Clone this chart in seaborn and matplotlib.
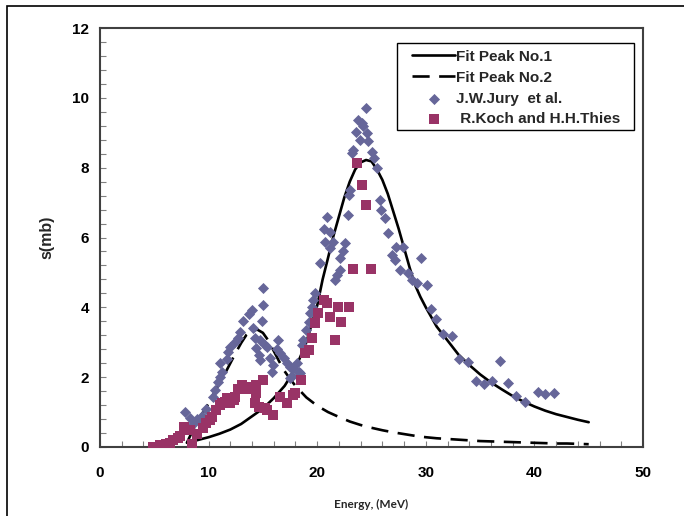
"""Photonuclear cross section: Lorentzian fits vs. measured data."""

import matplotlib.pyplot as plt
import seaborn as sns
from matplotlib.patches import Rectangle
from matplotlib.ticker import MultipleLocator

# Fit Peak No.1 (solid)
fit1_energy = [8, 9, 10, 11, 12, 13, 14, 15, 16, 17, 18, 19, 20, 20.5, 21, 21.5,
               22, 22.5, 23, 23.5, 24, 24.5, 25, 25.5, 26, 26.5, 27, 27.5, 28,
               28.5, 29, 29.5, 30, 31, 32, 33, 34, 35, 36, 37, 38, 39, 40, 41,
               42, 43, 44, 45]
fit1_sigma = [0.12, 0.2, 0.28, 0.38, 0.5, 0.66, 0.88, 1.1, 1.4, 1.75, 2.25, 3.0,
              4.05, 4.8, 5.42, 6.05, 6.6, 7.15, 7.6, 7.95, 8.15, 8.22, 8.18,
              7.95, 7.65, 7.25, 6.75, 6.25, 5.7, 5.15, 4.65, 4.3, 4.0, 3.45,
              3.05, 2.65, 2.35, 2.08, 1.85, 1.65, 1.46, 1.3, 1.16, 1.04, 0.94,
              0.86, 0.78, 0.71]

# Fit Peak No.2 (dashed)
fit2_energy = [8, 8.5, 9, 9.5, 10, 10.5, 11, 11.5, 12, 12.5, 13, 13.5, 14, 14.5,
               15, 15.5, 16, 16.5, 17, 17.5, 18, 19, 20, 21, 22, 23, 24, 25, 26,
               27, 28, 29, 30, 31, 32, 33, 34, 35, 36, 37, 38, 39, 40, 41, 42,
               43, 44, 45]
fit2_sigma = [0.12, 0.45, 0.75, 1.0, 1.25, 1.55, 1.82, 2.1, 2.4, 2.7, 2.98, 3.22,
              3.34, 3.36, 3.27, 3.05, 2.75, 2.45, 2.17, 1.95, 1.75, 1.42, 1.18,
              1.0, 0.86, 0.73, 0.63, 0.55, 0.48, 0.42, 0.37, 0.32, 0.28, 0.25,
              0.23, 0.21, 0.19, 0.17, 0.16, 0.15, 0.14, 0.13, 0.12, 0.11, 0.1,
              0.1, 0.09, 0.08]

# J.W.Jury et al.
jury_energy = [7.8, 8.3, 8.6, 8.9, 9.1, 9.4, 9.8, 10.4, 10.6, 10.9, 11.05, 11.2,
               11.05, 11.7, 11.8, 12.0, 12.4, 12.7, 12.9, 13.2, 13.7, 14.0, 14.1,
               14.3, 14.4, 14.6, 14.7, 14.7, 14.9, 15.0, 15.05, 15.2, 15.35,
               15.65, 15.8, 15.95, 16.3, 16.4, 16.6, 16.9, 17.2, 17.5, 17.5,
               17.65, 17.8, 18.1, 18.3, 18.4, 18.6, 18.7, 19.0, 19.2, 19.3, 19.5,
               19.6, 19.8, 20.3, 20.6, 20.7, 20.9, 21.2, 21.2, 21.5, 21.6, 21.8,
               22.1, 22.1, 22.4, 22.6, 22.8, 22.9, 23.0, 23.2, 23.3, 23.6, 23.8,
               23.9, 24.1, 24.2, 24.5, 24.55, 24.7, 25.0, 25.2, 25.5, 25.8, 25.9,
               26.2, 26.5, 26.9, 27.2, 27.3, 27.6, 27.9, 28.4, 28.7, 29.2, 29.6,
               30.1, 30.5, 30.9, 31.6, 32.4, 33.1, 33.9, 34.6, 35.4, 36.1, 36.8,
               37.6, 38.3, 39.1, 40.3, 41.0, 41.8]
jury_sigma = [1.01, 0.82, 0.66, 0.80, 0.76, 0.88, 1.08, 1.42, 1.63, 1.85, 2.01,
              2.14, 2.42, 2.52, 2.73, 2.87, 3.02, 3.12, 3.28, 3.62, 3.80, 3.93,
              3.42, 3.11, 2.83, 2.64, 2.50, 3.07, 3.62, 4.08, 4.56, 2.92, 2.87,
              2.56, 2.16, 2.36, 2.80, 3.07, 2.68, 2.54, 2.40, 2.30, 1.97, 2.03,
              2.25, 2.40, 2.16, 2.11, 2.92, 3.07, 3.35, 3.59, 3.83, 4.02, 4.21,
              4.40, 5.26, 6.25, 5.88, 6.60, 6.17, 5.69, 5.88, 4.78, 4.93, 5.07,
              5.41, 5.60, 5.84, 6.65, 7.22, 7.36, 8.42, 8.51, 9.03, 9.37, 8.80,
              9.27, 9.18, 9.72, 8.99, 8.75, 8.46, 8.27, 7.99, 7.08, 6.79, 6.55,
              6.12, 5.50, 5.36, 5.74, 5.07, 5.74, 4.98, 4.78, 4.69, 5.41, 4.64,
              3.95, 3.66, 3.23, 3.19, 2.52, 2.44, 1.89, 1.81, 1.89, 2.47, 1.84,
              1.47, 1.28, 1.58, 1.52, 1.56]

# R.Koch and H.H.Thies
koch_energy = [4.9, 5.5, 5.75, 6.1, 6.45, 6.75, 7.2, 7.4, 7.75, 8.3, 8.5, 8.9, 9.5,
               9.8, 10.1, 10.3, 10.7, 11.05, 11.2, 11.5, 11.7, 12.0, 12.3, 12.4,
               12.7, 13.05, 13.5, 14.0, 14.4, 14.4, 14.3, 14.6, 15.05, 15.2,
               15.35, 15.95, 16.6, 17.2, 17.8, 18.0, 18.5, 18.9, 19.2, 19.5,
               19.8, 20.1, 20.6, 20.9, 21.2, 21.6, 21.9, 22.2, 22.9, 23.3, 23.7,
               24.1, 24.5, 24.95]
koch_sigma = [0.0, 0.05, 0.06, 0.10, 0.12, 0.20, 0.25, 0.31, 0.56, 0.49, 0.10,
              0.37, 0.53, 0.68, 0.77, 0.87, 1.06, 1.20, 1.25, 1.30, 1.40, 1.25,
              1.35, 1.44, 1.66, 1.78, 1.65, 1.73, 1.78, 1.54, 1.27, 1.15, 1.92,
              1.13, 1.06, 0.92, 1.42, 1.25, 1.49, 1.54, 1.92, 2.70, 2.78, 3.13,
              3.54, 3.83, 4.21, 4.12, 3.73, 3.07, 4.02, 3.59, 4.02, 5.10, 8.13,
              7.50, 6.93, 5.10]

sns.set_theme(style="white")
plt.rcParams["font.family"] = ["Liberation Sans", "DejaVu Sans"]
plt.rcParams["font.weight"] = "bold"

fig = plt.figure(figsize=(6.84, 5.16), dpi=100)
ax = fig.add_axes([100 / 684, 69 / 516, 543 / 684, 419 / 516])

dash = (0, (6.5, 3.6))
sns.lineplot(x=fit1_energy, y=fit1_sigma, ax=ax, color="black", lw=1.9,
             sort=False, estimator=None, label="Fit Peak No.1", zorder=2)
sns.lineplot(x=fit2_energy, y=fit2_sigma, ax=ax, color="black", lw=1.9,
             linestyle=dash, sort=False, estimator=None,
             label="Fit Peak No.2", zorder=2)
sns.scatterplot(x=jury_energy, y=jury_sigma, ax=ax, marker="D", s=32,
                color="#666699", linewidth=0, label="J.W.Jury  et al.",
                zorder=3)
sns.scatterplot(x=koch_energy, y=koch_sigma, ax=ax, marker="s", s=55,
                color="#993366", linewidth=0,
                label=" R.Koch and H.H.Thies", zorder=4)

ax.set_xlim(0, 50)
ax.set_ylim(0, 12)
ax.xaxis.set_major_locator(MultipleLocator(10))
ax.xaxis.set_minor_locator(MultipleLocator(2))
ax.yaxis.set_major_locator(MultipleLocator(2))
ax.yaxis.set_minor_locator(MultipleLocator(0.4))
ax.tick_params(which="both", direction="in", length=4, width=0.8,
               color="#808080", bottom=True, left=True, top=False, right=False)
ax.tick_params(which="major", labelsize=11, labelcolor="black")
ax.tick_params(axis="y", which="major", pad=8)
ax.tick_params(axis="x", which="major", pad=14)
for sp in ax.spines.values():
    sp.set_color("#404040")
    sp.set_linewidth(1.5)

ax.set_ylabel("s(mb)", fontsize=11.5, fontweight="bold")
ax.yaxis.set_label_coords(-0.083, 0.5)
ax.set_xlabel("Energy, (MeV)", fontsize=8.5, fontweight="bold",
              fontfamily=["Lato", "DejaVu Sans"])
ax.xaxis.set_label_coords(0.5, -0.124)

leg = ax.legend(loc="upper left", bbox_to_anchor=(0.5746, 0.948),
                frameon=False, borderpad=0, borderaxespad=0,
                handlelength=2.82, handletextpad=0.05, labelspacing=0.45,
                prop={"weight": "bold", "size": 11})
ax.add_patch(Rectangle((0.547, 0.7566), 0.436, 0.2076, transform=ax.transAxes,
                       fill=False, ec="black", lw=1.0, zorder=5))

# outer chart frame
fig.add_artist(Rectangle((7 / 684, -0.1), 1.0, 1.0 - 6 / 516 + 0.1,
                         transform=fig.transFigure, fill=False,
                         ec="black", lw=1.2))

fig.savefig("out.png", dpi=100)
